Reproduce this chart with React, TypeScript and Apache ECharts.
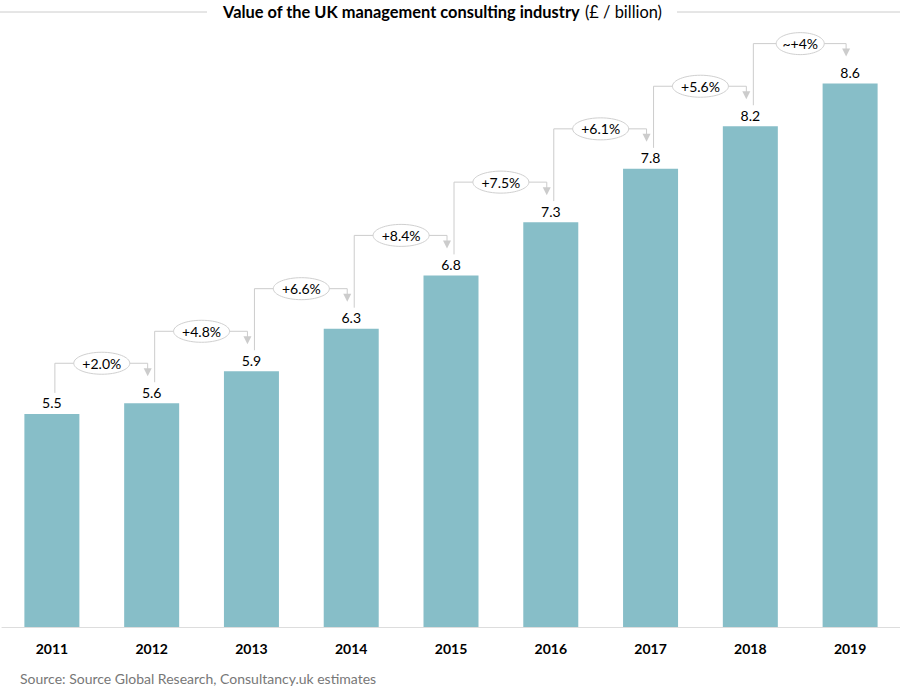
import React, { useEffect, useRef } from "react";
import * as echarts from "echarts";

const years = ["2011", "2012", "2013", "2014", "2015", "2016", "2017", "2018", "2019"];
const values = [5.5, 5.6, 5.9, 6.3, 6.8, 7.3, 7.8, 8.2, 8.6];
const growthLabels = ["+2.0%", "+4.8%", "+6.6%", "+8.4%", "+7.5%", "+6.1%", "+5.6%", "~+4%"];

const FONT = "Lato, 'Open Sans', sans-serif";

export default function App() {
  const ref = useRef<HTMLDivElement>(null);
  useEffect(() => {
    document.body.style.margin = "0";
    const chart = echarts.init(ref.current!, null, { renderer: "svg" });
    const connectorData = growthLabels.map((g, i) => [i, values[i], values[i + 1], g]);
    chart.setOption({
      animation: false,
      backgroundColor: "#ffffff",
      title: {
        text: "{b|Value of the UK management consulting industry} {n|(£ / billion)}",
        left: 218,
        top: -3,
        textStyle: {
          rich: {
            b: { fontFamily: FONT, fontWeight: "bold", fontSize: 16.4, color: "#000" },
            n: { fontFamily: FONT, fontWeight: "normal", fontSize: 16.4, color: "#000" },
          },
        },
      },
      graphic: [
        { type: "line", shape: { x1: 0, y1: 12, x2: 207, y2: 12 }, style: { stroke: "#cccccc", lineWidth: 1 } },
        { type: "line", shape: { x1: 677, y1: 12, x2: 900, y2: 12 }, style: { stroke: "#cccccc", lineWidth: 1 } },
        {
          type: "text",
          left: 20,
          top: 671,
          style: {
            text: "Source: Source Global Research, Consultancy.uk estimates",
            fontFamily: FONT,
            fontSize: 14,
            fill: "#777777",
          },
        },
      ],
      grid: { left: 2, right: 0, top: 41, bottom: 64 },
      xAxis: {
        type: "category",
        data: years,
        axisLine: { lineStyle: { color: "#dddddd" } },
        axisTick: { show: false },
        axisLabel: { fontFamily: FONT, fontWeight: "bold", fontSize: 14, color: "#000", margin: 14 },
      },
      yAxis: {
        type: "value",
        min: 3.5,
        max: 9,
        show: false,
        splitLine: { show: false },
      },
      series: [
        {
          type: "bar",
          data: values,
          barWidth: 55,
          itemStyle: { color: "#87bec8" },
          label: {
            show: true,
            position: "top",
            distance: 4,
            fontFamily: FONT,
            fontSize: 14,
            color: "#000",
          },
        },
        {
          type: "custom",
          data: connectorData,
          z: 10,
          renderItem: (params: any, api: any) => {
            const i = api.value(0);
            const p1 = api.coord([i, api.value(1)]);
            const p2 = api.coord([i + 1, api.value(2)]);
            const label = growthLabels[params.dataIndex];
            const xUp = p1[0] + 3;
            const xDown = p2[0] - 4;
            const yl = p2[1] - 40;
            const yStart = p1[1] - 21;
            const yTip = p2[1] - 27;
            const cx = (p1[0] + p2[0]) / 2;
            const rx = label.length >= 5 ? 28 : 24;
            return {
              type: "group",
              children: [
                {
                  type: "polyline",
                  shape: { points: [[xUp, yStart], [xUp, yl], [xDown, yl], [xDown, yTip - 6]] },
                  style: { stroke: "#cccccc", lineWidth: 1, fill: null },
                },
                {
                  type: "polygon",
                  shape: { points: [[xDown - 4, yTip - 8], [xDown + 4, yTip - 8], [xDown, yTip]] },
                  style: { fill: "#cccccc" },
                },
                {
                  type: "ellipse",
                  shape: { cx, cy: yl, rx, ry: 11 },
                  style: { fill: "#ffffff", stroke: "#d0d0d0", lineWidth: 1 },
                },
                {
                  type: "text",
                  x: cx,
                  y: yl,
                  style: {
                    text: label,
                    fontFamily: FONT,
                    fontSize: 14,
                    fill: "#000",
                    align: "center",
                    verticalAlign: "middle",
                  },
                },
              ],
            };
          },
        },
      ],
    });
    return () => chart.dispose();
  }, []);
  return <div ref={ref} style={{ width: 900, height: 691 }} />;
}
